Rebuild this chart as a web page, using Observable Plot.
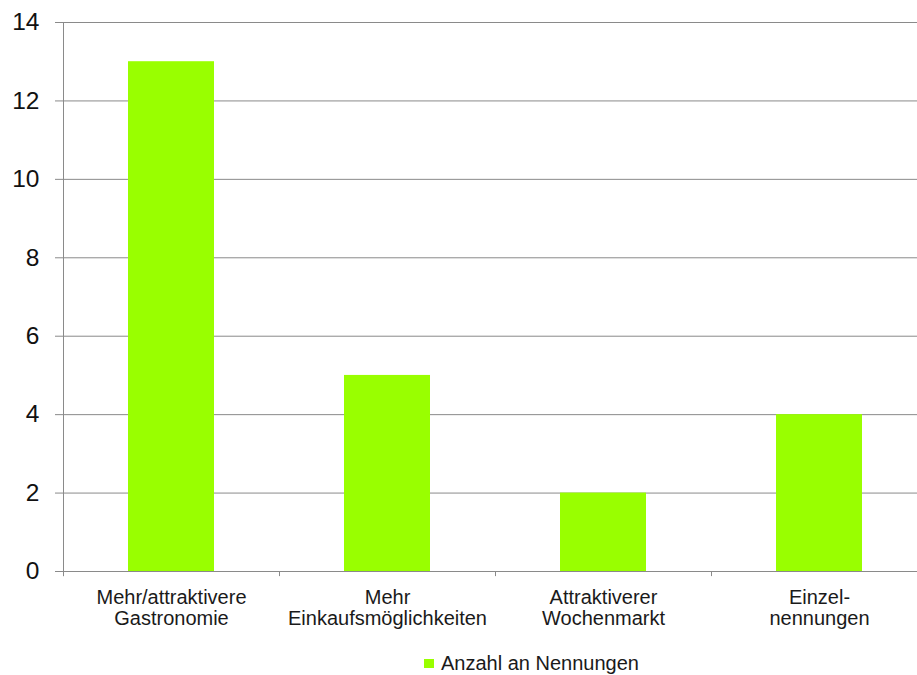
<!DOCTYPE html>
<html>
<head>
<meta charset="utf-8">
<script src="https://cdn.jsdelivr.net/npm/d3@7"></script>
<script src="https://cdn.jsdelivr.net/npm/@observablehq/plot@0.6"></script>
<style>
  html, body { margin: 0; padding: 0; background: #fff; }
  #wrap { position: relative; width: 917px; height: 675px; overflow: hidden; font-family: "Liberation Sans", Arial, sans-serif; }
  #chart svg { overflow: hidden; }
  #legend { position: absolute; left: 424px; top: 651px; font-size: 20px; line-height: 24px; color: #1a1a1a; display: flex; align-items: center; white-space: nowrap; }
  #legend .sw { width: 10px; height: 9px; background: #99ff00; margin-right: 7px; }
</style>
</head>
<body>
<div id="wrap">
  <div id="chart"></div>
  <div id="legend"><span class="sw"></span><span id="legendLabel"></span></div>
</div>
<script>
const categories = ["Mehr/attraktivere\nGastronomie", "Mehr\nEinkaufsmöglichkeiten", "Attraktiverer\nWochenmarkt", "Einzel-\nnennungen"];
const values = [13, 5, 2, 4];
const yTicks = [0, 2, 4, 6, 8, 10, 12, 14];
const seriesName = "Anzahl an Nennungen";

const data = categories.map((c, i) => ({category: c, value: values[i]}));
document.getElementById("legendLabel").textContent = seriesName;

const chart = Plot.plot({
  width: 917,
  height: 645,
  marginTop: 22,
  marginBottom: 74,
  marginLeft: 63,
  marginRight: -10,
  style: {fontFamily: "'Liberation Sans', Arial, sans-serif", background: "#fff", overflow: "hidden"},
  x: {domain: categories, paddingInner: 0.6, paddingOuter: 0.3, axis: null},
  y: {domain: [0, 14], axis: null},
  marks: [
    Plot.ruleY(yTicks, {stroke: "#8a8a8a", strokeWidth: 1}),
    Plot.barY(data, {x: "category", y: "value", fill: "#99ff00"}),
    Plot.ruleX(categories, {x: d => d, dx: -108, y1: -0.13, y2: 0, stroke: "#8a8a8a"}),
    Plot.ruleX([categories[0]], {x: d => d, dx: -108, y1: -0.13, y2: 14, stroke: "#8a8a8a"}),
    Plot.axisY({ticks: yTicks, label: null, tickSize: 8, tickPadding: 16, fontSize: 24.5, fill: "#111", stroke: "#8a8a8a", strokeOpacity: 1, tickFormat: d => String(d)}),
    Plot.text(data, {x: "category", y: 0, text: "category", dy: 17, lineAnchor: "top", lineHeight: 1.075, fontSize: 20, fill: "#1a1a1a"})
  ]
});
document.getElementById("chart").appendChild(chart);
</script>
</body>
</html>
